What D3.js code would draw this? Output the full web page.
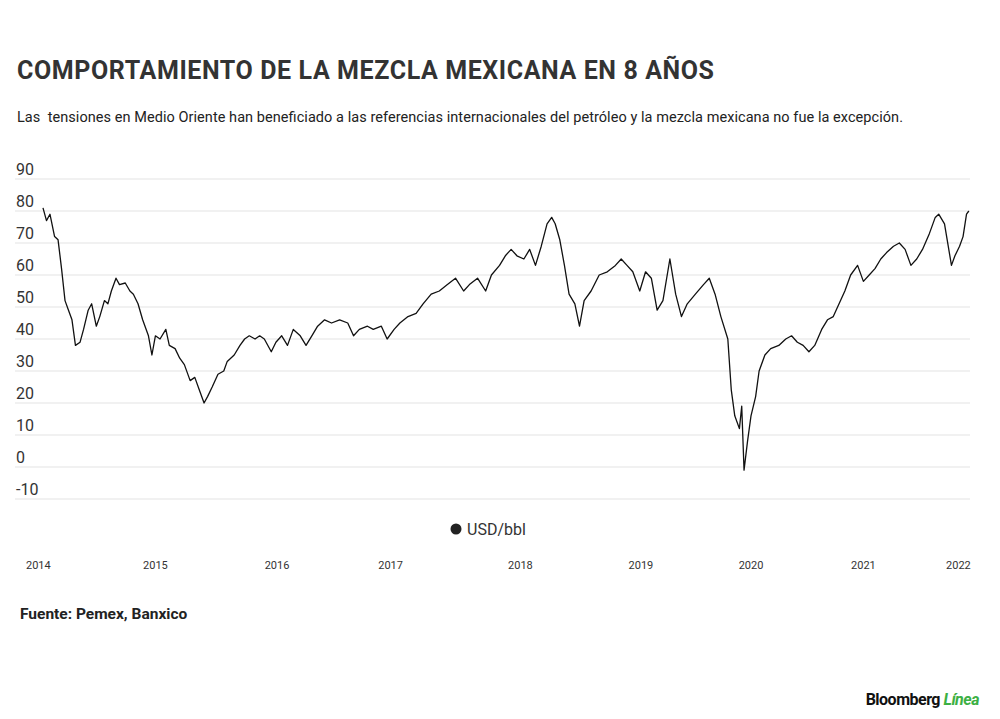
<!DOCTYPE html>
<html>
<head>
<script src="https://d3js.org/d3.v7.min.js"></script>
<style>
  body { margin: 0; background: #fff; font-family: Roboto, Arial, sans-serif; }
  .grid line { stroke: #e3e3e3; }
  .pre { white-space: pre; }
</style>
</head>
<body>
<svg id="chart" width="1000" height="719"></svg>
<script>
// years since 2014-01-01
const years = [0,.03,.06,.10,.13,.16,.19,.22,.25,.28,.32,.35,.39,.42,.46,.49,.53,.56,.59,.63,.66,.71,.75,.78,.82,.86,.91,.94,.97,
  1.01,1.06,1.09,1.14,1.18,1.22,1.27,1.31,1.35,1.39,1.42,1.46,1.51,1.56,1.59,1.65,1.70,1.74,1.78,1.83,1.87,1.91,1.97,
  2.01,2.06,2.11,2.16,2.22,2.27,2.32,2.37,2.43,2.49,2.56,2.63,2.68,2.73,2.80,2.85,2.92,2.97,
  3.03,3.08,3.15,3.22,3.28,3.35,3.42,3.49,3.56,3.63,3.68,3.75,3.82,3.87,3.94,3.99,
  4.04,4.09,4.15,4.20,4.25,4.30,4.35,4.39,4.42,4.46,4.50,4.54,4.59,4.63,4.67,4.73,4.80,4.87,4.94,4.99,
  5.04,5.09,5.15,5.20,5.25,5.30,5.35,5.41,5.46,5.51,5.56,5.63,5.70,5.75,5.80,5.85,5.91,5.94,5.97,
  6.01,6.03,6.05,6.08,6.11,6.15,6.18,6.23,6.28,6.35,6.41,6.46,6.51,6.56,6.61,6.66,6.72,6.77,6.82,6.87,6.92,6.97,
  7.03,7.08,7.13,7.18,7.23,7.28,7.34,7.39,7.44,7.49,7.54,7.59,7.65,7.70,7.73,7.78,7.84,7.87,7.91,7.94,7.97,7.99];
const prices = [81,77,79,72,71,62,52,49,46,38,39,43,49,51,44,47,52,51,55,59,57,57.5,55,54,51,46,41,35,41,
  40,43,38,37,34,32,27,28,24,20,22,25,29,30,33,35,38,40,41,40,41,40,36,
  39,41,38,43,41,38,41,44,46,45,46,45,41,43,44,43,44,40,
  43,45,47,48,51,54,55,57,59,55,57,59,55,60,63,66,
  68,66,65,68,63,69,76,78,76,71,63,54,51,44,52,55,60,61,63,65,
  63,61,55,61,59,49,52,65,54,47,51,54,57,59,54,47,40,24,16,
  12,19,-1,8,16,22,30,35,37,38,40,41,39,38,36,38,43,46,47,51,55,60,
  63,58,60,62,65,67,69,70,68,63,65,68,73,78,79,76,63,66,69,72,79,80];
const yTicks = [-10,0,10,20,30,40,50,60,70,80,90];
const yearLabels = ["2014","2015","2016","2017","2018","2019","2020","2021","2022"];
// where each year label sits, in years since 2014 (the source spaces them unevenly)
const yearLabelPos = [-0.04,0.97,2.02,3.0,4.12,5.16,6.11,7.08,7.9];

const svg = d3.select("#chart");
const x = d3.scaleLinear().domain([0, 8]).range([43, 970]);
const y = d3.scaleLinear().domain([-10, 90]).range([499, 179]);

svg.append("text").attr("x", 17).attr("y", 79).attr("font-size", 25).attr("font-weight", 700)
  .attr("fill", "#333").attr("textLength", 697).text("COMPORTAMIENTO DE LA MEZCLA MEXICANA EN 8 AÑOS");
svg.append("text").attr("class", "pre").attr("x", 17).attr("y", 122).attr("font-size", 14.5).attr("fill", "#222")
  .attr("textLength", 886)
  .text("Las  tensiones en Medio Oriente han beneficiado a las referencias internacionales del petróleo y la mezcla mexicana no fue la excepción.");

const grid = svg.append("g").attr("class", "grid");
grid.selectAll("line").data(yTicks).join("line")
  .attr("x1", 15).attr("x2", 970).attr("y1", d => y(d)).attr("y2", d => y(d));
svg.append("g").selectAll("text").data(yTicks).join("text")
  .attr("x", 16).attr("y", d => y(d) - 4).attr("font-size", 16).attr("fill", "#333").text(d => d);

const line = d3.line().x((d, i) => x(years[i])).y(d => y(d));
svg.append("path").datum(prices).attr("d", line).attr("fill", "none")
  .attr("stroke", "#111").attr("stroke-width", 1.3).attr("stroke-linejoin", "round");

svg.append("circle").attr("cx", 456).attr("cy", 529).attr("r", 5.5).attr("fill", "#222");
svg.append("text").attr("x", 467).attr("y", 535).attr("font-size", 16).attr("fill", "#333").text("USD/bbl");

svg.append("g").selectAll("text").data(yearLabels).join("text")
  .attr("x", (d, i) => x(yearLabelPos[i])).attr("y", 569).attr("text-anchor", "middle")
  .attr("font-size", 11).attr("fill", "#333").text(d => d);

svg.append("text").attr("x", 20).attr("y", 619).attr("font-size", 15.5).attr("font-weight", 700)
  .attr("fill", "#222").text("Fuente: Pemex, Banxico");

const logo = svg.append("text").attr("x", 979).attr("y", 705).attr("text-anchor", "end")
  .attr("font-size", 16).attr("font-weight", 700).attr("letter-spacing", -0.5);
logo.append("tspan").attr("fill", "#111").text("Bloomberg ");
logo.append("tspan").attr("fill", "#3cb043").attr("font-style", "italic").text("Línea");
</script>
</body>
</html>
